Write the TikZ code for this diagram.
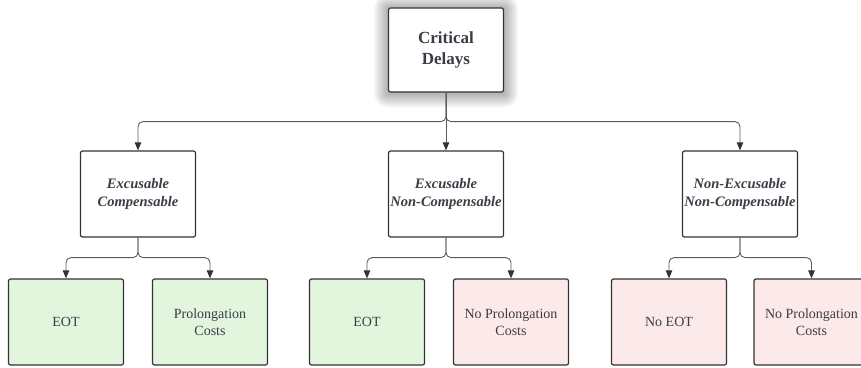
\documentclass[tikz,border=0pt]{standalone}
\usepackage{fontspec}
\setmainfont{Liberation Serif}
\usetikzlibrary{arrows.meta,backgrounds}

\definecolor{okgreen}{HTML}{E1F6DD}
\definecolor{nopink}{HTML}{FCE9E9}
\definecolor{boxline}{HTML}{333333}
\definecolor{wirecol}{HTML}{5C5C5C}
\definecolor{ink}{HTML}{3C3C46}

\tikzset{
    delaybox/.style={draw=boxline, line width=1.2pt, rounded corners=2pt,
        minimum width=115pt, minimum height=86pt, align=center, text=ink, inner sep=1pt},
    headbox/.style={delaybox, fill=white, minimum height=84pt,
        font=\fontsize{17}{21}\selectfont\bfseries},
    typebox/.style={delaybox, fill=white,
        font=\fontsize{14.5}{18}\selectfont\bfseries\itshape},
    yesbox/.style={delaybox, fill=okgreen, font=\fontsize{14}{17.5}\selectfont},
    nobox/.style={delaybox, fill=nopink, font=\fontsize{14}{17.5}\selectfont},
    wire/.style={draw=wirecol, line width=0.9pt, rounded corners=5pt,
        -{Triangle[length=8pt,width=6.5pt,color=boxline]}},
}

\begin{document}
\begin{tikzpicture}[x=1pt, y=1pt]
    % --- SETTINGS ---
    \def\busY{29}
    \def\forkY{20}
    \useasboundingbox (0,0) rectangle (861,367);
    \clip (0,0) rectangle (861,367);

    % =========================================
    % TOP: critical delays
    % =========================================
    \node[headbox] (crit) at (446,317) {Critical\\Delays};
    \begin{scope}[on background layer]
        % soft glow round the top box
        \foreach \s in {1,...,14} {
            \fill[black, opacity=0.025, rounded corners=\s pt]
                ([shift={(-\s,-\s-1)}]crit.south west) rectangle ([shift={(\s,\s-1)}]crit.north east);
        }
    \end{scope}

    % =========================================
    % MIDDLE: delay types
    % =========================================
    \node[typebox] (exc) at (138,173) {Excusable\\Compensable};
    \node[typebox] (exn) at (446,173) {Excusable\\Non-Compensable};
    \node[typebox] (nen) at (740,173) {Non-Excusable\\Non-Compensable};

    % =========================================
    % BOTTOM: entitlements
    % =========================================
    \node[yesbox] (excEot)  at (66,45)    {EOT};
    \node[yesbox] (excCost) at (210,45)   {Prolongation\\Costs};
    \node[yesbox] (exnEot)  at (367,45)   {EOT};
    \node[nobox]  (exnCost) at (511,45)   {No Prolongation\\Costs};
    \node[nobox]  (nenEot)  at (669,45)   {No EOT};
    \node[nobox]  (nenCost) at (811.5,45) {No Prolongation\\Costs};

    % Connectors
    \draw[wire] (crit.south) -- ++(0,-\busY) -| (exc.north);
    \draw[wire] (crit.south) -- (exn.north);
    \draw[wire] (crit.south) -- ++(0,-\busY) -| (nen.north);

    \foreach \top/\left/\right in {exc/excEot/excCost, exn/exnEot/exnCost, nen/nenEot/nenCost} {
        \draw[wire] (\top.south) -- ++(0,-\forkY) -| (\left.north);
        \draw[wire] (\top.south) -- ++(0,-\forkY) -| (\right.north);
    }
\end{tikzpicture}
\end{document}
